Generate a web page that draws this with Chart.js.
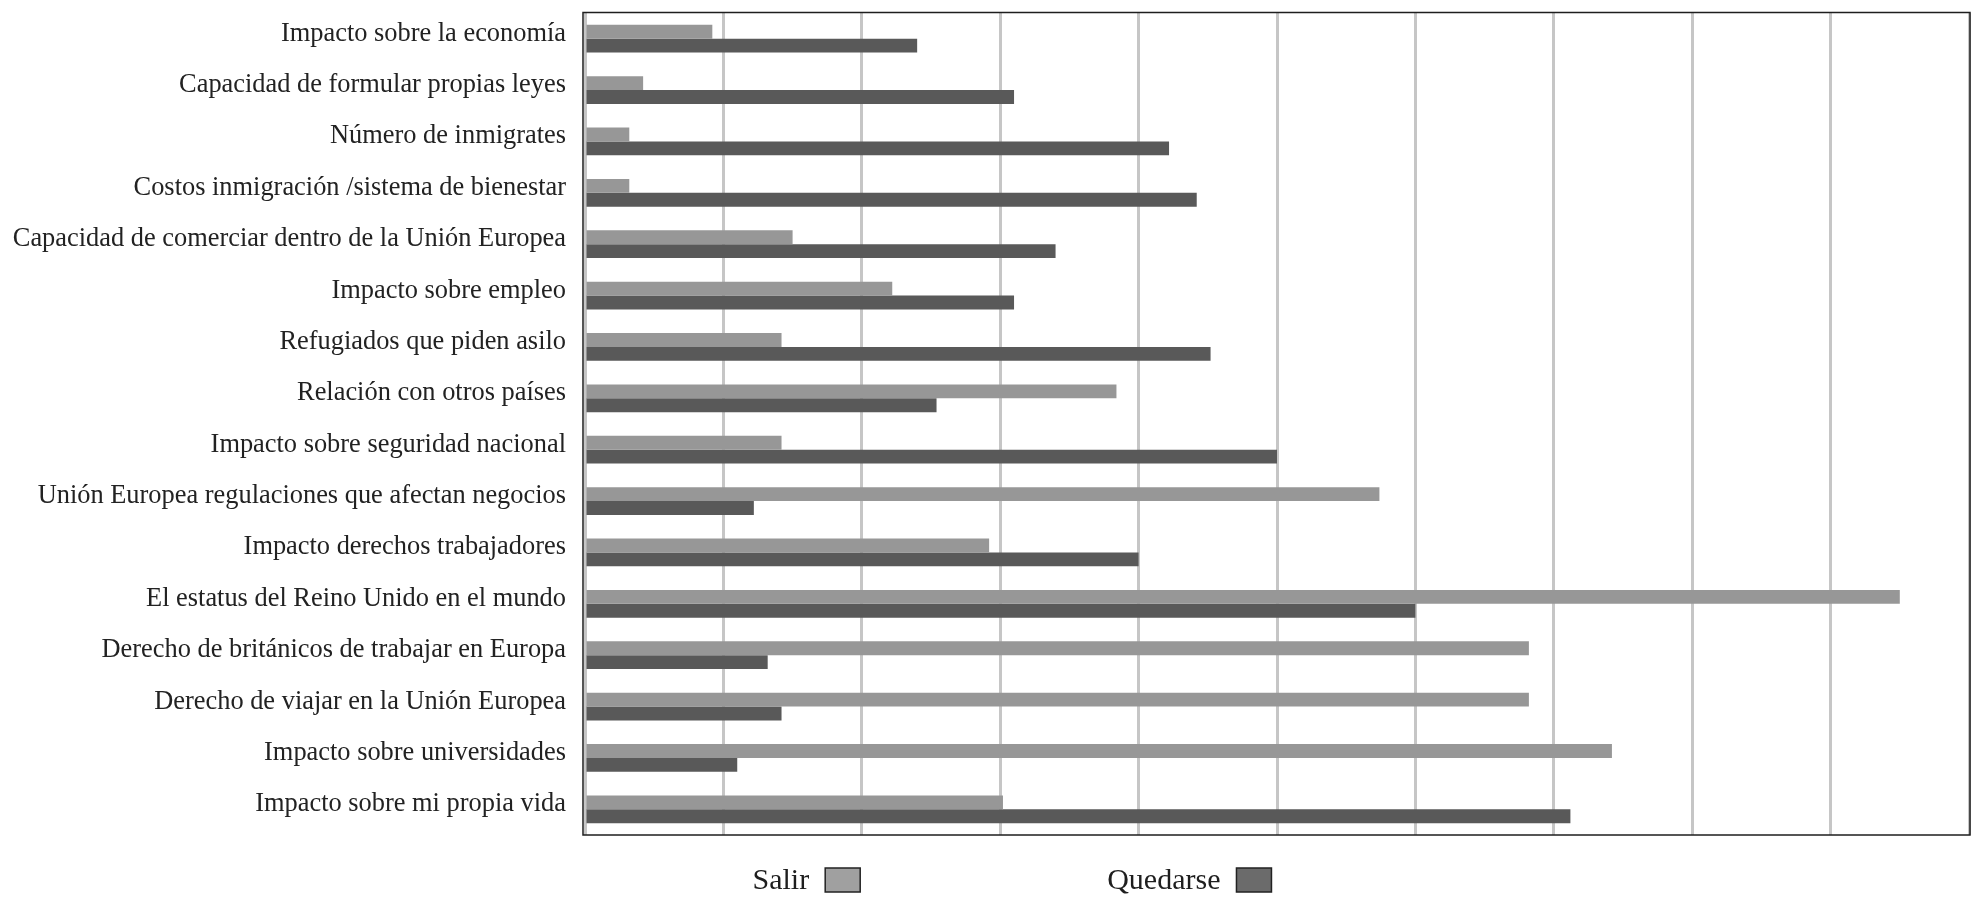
<!DOCTYPE html>
<html>
<head>
<meta charset="utf-8">
<script src="https://cdn.jsdelivr.net/npm/chart.js@4"></script>
<style>
  html, body { margin: 0; padding: 0; background: #fff; }
  #wrap { width: 1987px; height: 906px; position: relative; }
</style>
</head>
<body>
<div id="wrap"><canvas id="chart"></canvas></div>
<script>
// categorías (de arriba hacia abajo)
const categories = [
  'Impacto sobre la economía',
  'Capacidad de formular propias leyes',
  'Número de inmigrates',
  'Costos inmigración /sistema de bienestar',
  'Capacidad de comerciar dentro de la Unión Europea',
  'Impacto sobre empleo',
  'Refugiados que piden asilo',
  'Relación con otros países',
  'Impacto sobre seguridad nacional',
  'Unión Europea regulaciones que afectan negocios',
  'Impacto derechos trabajadores',
  'El estatus del Reino Unido en el mundo',
  'Derecho de británicos de trabajar en Europa',
  'Derecho de viajar en la Unión Europea',
  'Impacto sobre universidades',
  'Impacto sobre mi propia vida'
];

// valores estimados del gráfico (%)
const salir = [4.6, 2.1, 1.6, 1.6, 7.5, 11.1, 7.1, 19.2, 7.1, 28.7, 14.6, 47.5, 34.1, 34.1, 37.1, 15.1];
const quedarse = [12.0, 15.5, 21.1, 22.1, 17.0, 15.5, 22.6, 12.7, 25.0, 6.1, 20.0, 30.0, 6.6, 7.1, 5.5, 35.6];

const seriesNames = ['Salir', 'Quedarse'];
const xMax = 50;
const xStep = 5;

const FONT = '"Liberation Serif", "Times New Roman", serif';

// marco negro alrededor del área del gráfico
const framePlugin = {
  id: 'frame',
  afterDatasetsDraw(chart) {
    const { ctx, chartArea: a } = chart;
    ctx.save();
    ctx.strokeStyle = '#1e1e1e';
    ctx.lineWidth = 1.5;
    ctx.strokeRect(a.left - 2, a.top - 0.5, a.right - a.left + 3, a.bottom - a.top + 0.5);
    ctx.restore();
  }
};

// leyenda: texto a la izquierda, cuadro a la derecha
const legendPlugin = {
  id: 'textLegend',
  afterDraw(chart) {
    const { ctx } = chart;
    const items = chart.data.datasets.map(d => ({ label: d.label, color: d.legendColor }));
    ctx.save();
    ctx.font = '30px ' + FONT;
    ctx.textBaseline = 'alphabetic';
    const boxW = 35, boxH = 24, gapText = 16, gapItem = 247;
    const widths = items.map(it => ctx.measureText(it.label).width + gapText + boxW);
    const total = widths.reduce((s, w) => s + w, 0) + gapItem * (items.length - 1);
    let x = 1012 - total / 2;
    const baseline = 889;
    items.forEach((it, i) => {
      ctx.fillStyle = '#1e1e1e';
      ctx.textAlign = 'left';
      ctx.fillText(it.label, x, baseline);
      const bx = x + ctx.measureText(it.label).width + gapText;
      ctx.fillStyle = it.color;
      ctx.fillRect(bx, 868, boxW, boxH);
      ctx.strokeStyle = '#222';
      ctx.lineWidth = 1.5;
      ctx.strokeRect(bx, 868, boxW, boxH);
      x += widths[i] + gapItem;
    });
    ctx.restore();
  }
};

new Chart(document.getElementById('chart'), {
  type: 'bar',
  data: {
    labels: categories,
    datasets: [
      { label: seriesNames[0], data: salir, backgroundColor: '#979797', legendColor: '#a0a0a0' },
      { label: seriesNames[1], data: quedarse, backgroundColor: '#595959', legendColor: '#6b6b6b' }
    ]
  },
  options: {
    indexAxis: 'y',
    responsive: true,
    maintainAspectRatio: false,
    animation: false,
    datasets: {
      bar: { categoryPercentage: 0.54, barPercentage: 1.0 }
    },
    layout: { padding: { left: 0, top: 13, right: 18, bottom: 71 } },
    scales: {
      x: {
        min: 0,
        max: xMax,
        ticks: { display: false, stepSize: xStep },
        grid: { color: '#c6c6c6', lineWidth: 3, drawTicks: false },
        border: { display: false },
        afterFit: s => { s.height = 0; }
      },
      y: {
        ticks: {
          color: '#222',
          font: { family: FONT, size: 26.4 },
          padding: 19,
          labelOffset: -5,
          autoSkip: false
        },
        grid: { display: false, drawTicks: false },
        border: { display: false },
        afterFit: s => {
          s.width = 585;
          s.paddingTop = 0;
          s.paddingBottom = 0;
        }
      }
    },
    plugins: {
      legend: { display: false },
      tooltip: { enabled: false }
    }
  },
  plugins: [framePlugin, legendPlugin]
});
</script>
</body>
</html>
